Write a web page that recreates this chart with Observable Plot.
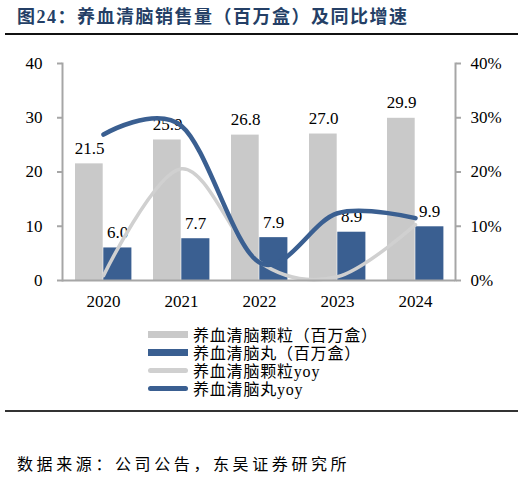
<!DOCTYPE html>
<html><head><meta charset="utf-8">
<script src="https://cdn.jsdelivr.net/npm/d3@7"></script>
<script src="https://cdn.jsdelivr.net/npm/@observablehq/plot@0.6"></script>
<style>
body{margin:0;background:#fff;width:530px;height:479px;position:relative;overflow:hidden;font-family:"Liberation Serif","Noto Sans CJK SC",serif}
#title{position:absolute;left:17px;top:5px;font-size:18px;font-weight:bold;color:#243F66;letter-spacing:1.5px;white-space:nowrap;line-height:24px}
.rule{position:absolute;left:5px;width:513px;height:2px;background:#111}
#chart{position:absolute;left:0;top:40px}
#chart svg, #chart svg text{font-family:"Liberation Serif","Times New Roman",serif !important}
#legend{position:absolute;left:148px;top:325px}
.row{height:18px;display:flex;align-items:center;font-size:16px;letter-spacing:0.8px;color:#000;white-space:nowrap}
.sw{width:40px;margin-right:5px;flex:none}
.bar{height:7px}
.ln{height:5px;border-radius:3px}
#source{position:absolute;left:17px;top:454px;font-size:16px;letter-spacing:3.6px;color:#000;white-space:nowrap;line-height:22px}
</style></head>
<body>
<div id="title">图24：养血清脑销售量（百万盒）及同比增速</div>
<div class="rule" style="top:33px"></div>
<div id="chart"></div>
<div id="legend"></div>
<div class="rule" style="top:410px;background:#333"></div>
<div id="source">数据来源：公司公告，东吴证券研究所</div>
<script>
const years = ["2020", "2021", "2022", "2023", "2024"];
const granule = [21.5, 25.9, 26.8, 27.0, 29.9];      // 养血清脑颗粒（百万盒）
const pill = [6.0, 7.7, 7.9, 8.9, 9.9];              // 养血清脑丸（百万盒）
const granuleYoy = [0.9, 20.6, 3.4, 0.7, 10.3];      // 养血清脑颗粒yoy (%)
const pillYoy = [26.9, 28.5, 3.3, 12.4, 11.5];       // 养血清脑丸yoy (%)
const leftTicks = [0, 10, 20, 30, 40];
const seriesNames = ["养血清脑颗粒（百万盒）", "养血清脑丸（百万盒）", "养血清脑颗粒yoy", "养血清脑丸yoy"];

const GRAY = "#C9C9C9", BLUE = "#3A5F91", GRAYLINE = "#D0D0D0", AXIS = "#A6A6A6";
const SERIF = '"Liberation Serif","Times New Roman",serif';

const rows = years.map((y, i) => ({year: y, granule: granule[i], pill: pill[i], gy: granuleYoy[i], py: pillYoy[i]}));

const chart = Plot.plot({
  width: 530,
  height: 275,
  marginTop: 23,
  marginBottom: 35,
  marginLeft: 62,
  marginRight: 75,
  style: {fontFamily: SERIF, fontSize: "17px", color: "#000", background: "#fff"},
  x: {type: "band", domain: years, padding: 0, label: null},
  y: {domain: [0, 40], label: null},
  marks: [
    Plot.barY(rows, {x: "year", y: "granule", fill: GRAY, insetLeft: 11, insetRight: 39.3}),
    Plot.barY(rows, {x: "year", y: "pill", fill: BLUE, insetLeft: 39.3, insetRight: 10.6}),
    Plot.text(rows, {x: "year", y: "granule", text: d => d.granule.toFixed(1), dx: -14, dy: -10, lineAnchor: "bottom", fill: "#000", fontFamily: SERIF, fontSize: 17}),
    Plot.text(rows, {x: "year", y: "pill", text: d => d.pill.toFixed(1), dx: 14, dy: -10, lineAnchor: "bottom", fill: "#000", fontFamily: SERIF, fontSize: 17}),
    Plot.line(rows, {x: "year", y: "gy", stroke: GRAYLINE, strokeWidth: 3.5, curve: "cardinal"}),
    Plot.line(rows, {x: "year", y: "py", stroke: BLUE, strokeWidth: 4.5, curve: "cardinal"}),
    Plot.frame({anchor: "left", stroke: AXIS, strokeWidth: 2}),
    Plot.frame({anchor: "right", stroke: AXIS, strokeWidth: 2}),
    Plot.ruleY([0], {stroke: AXIS, strokeWidth: 2}),
    Plot.axisY({anchor: "left", ticks: leftTicks, tickSize: 5, tickPadding: 15, stroke: AXIS, strokeWidth: 2, label: null, fontFamily: SERIF, fontSize: 17}),
    Plot.axisY({anchor: "right", ticks: leftTicks, tickFormat: d => d + "%", tickSize: 5, tickPadding: 10, stroke: AXIS, strokeWidth: 2, label: null, fontFamily: SERIF, fontSize: 17}),
    Plot.axisX({tickSize: 0, tickPadding: 14, label: null, fontFamily: SERIF, fontSize: 17})
  ]
});
document.getElementById("chart").appendChild(chart);

const legend = document.getElementById("legend");
const swatches = [
  {cls: "bar", color: GRAY},
  {cls: "bar", color: BLUE},
  {cls: "ln", color: GRAYLINE},
  {cls: "ln", color: BLUE}
];
seriesNames.forEach((name, i) => {
  const r = document.createElement("div");
  r.className = "row";
  const s = document.createElement("div");
  s.className = "sw " + swatches[i].cls;
  s.style.background = swatches[i].color;
  const t = document.createElement("span");
  t.textContent = name;
  r.appendChild(s); r.appendChild(t);
  legend.appendChild(r);
});
</script>
</body></html>
